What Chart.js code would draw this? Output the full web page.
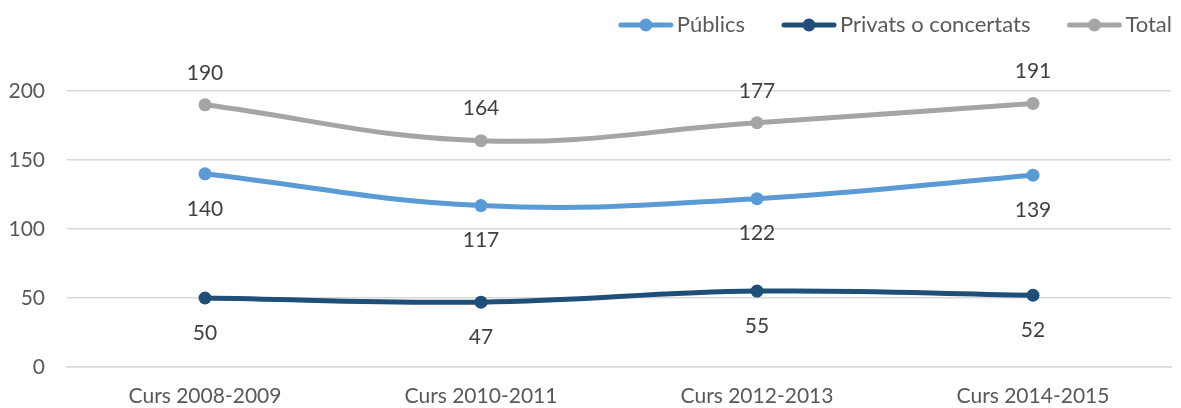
<!DOCTYPE html>
<html>
<head>
<meta charset="utf-8">
<script src="https://cdn.jsdelivr.net/npm/chart.js@4"></script>
<style>
  html, body { margin: 0; padding: 0; background: #fff; }
  #wrap { width: 1181px; height: 408px; }
</style>
</head>
<body>
<div id="wrap"><canvas id="grafic"></canvas></div>
<script>
const cursos = ['Curs 2008-2009', 'Curs 2010-2011', 'Curs 2012-2013', 'Curs 2014-2015'];
const publics = [140, 117, 122, 139];
const privats = [50, 47, 55, 52];
const total = [190, 164, 177, 191];
const ticksY = [0, 50, 100, 150, 200];

const FONT = "Lato, 'Open Sans', sans-serif";
const AMPLE_CAIXA = 70;

// marcador de la llegenda: línia amb punt, enganxat a la dreta de la caixa
function marcador(color) {
   const c = document.createElement('canvas');
   c.width = AMPLE_CAIXA + 16;
   c.height = 14;
   const g = c.getContext('2d');
   const x0 = c.width - 56;
   g.strokeStyle = color;
   g.lineWidth = 5;
   g.lineCap = 'round';
   g.beginPath();
   g.moveTo(x0 + 3, 7);
   g.lineTo(x0 + 53, 7);
   g.stroke();
   g.fillStyle = color;
   g.beginPath();
   g.arc(x0 + 28, 7, 6.5, 0, Math.PI * 2);
   g.fill();
   return c;
}

// etiquetes de dades (dalt o baix del punt)
const etiquetes = {
   id: 'etiquetes',
   afterDatasetsDraw(chart) {
      const ctx = chart.ctx;
      ctx.save();
      ctx.font = "21px " + FONT;
      ctx.fillStyle = '#404040';
      ctx.textAlign = 'center';
      ctx.textBaseline = 'middle';
      chart.data.datasets.forEach((ds, i) => {
         const meta = chart.getDatasetMeta(i);
         meta.data.forEach((pt, j) => {
            const dy = ds.posEtiqueta == 'dalt' ? -32 : 35;
            ctx.fillText(ds.data[j], pt.x, pt.y + dy);
         });
      });
      ctx.restore();
   }
};

// alçada fixa per a la llegenda i una mica més a la dreta
const espaiLlegenda = {
   id: 'espaiLlegenda',
   beforeInit(chart) {
      const fit = chart.legend.fit;
      chart.legend.fit = function () {
         fit.bind(chart.legend)();
         this.height = 91;
      };
   },
   afterLayout(chart) {
      chart.legend.left += 15;
      chart.legend.right += 15;
   }
};

function serie(label, data, color, pos) {
   return {
      label: label,
      data: data,
      borderColor: color,
      backgroundColor: color,
      borderWidth: 5,
      pointRadius: 6.5,
      pointHoverRadius: 6.5,
      pointBackgroundColor: color,
      pointBorderWidth: 0,
      pointStyle: 'circle',
      tension: 0.4,
      posEtiqueta: pos
   };
}

const ctx = document.getElementById('grafic');
new Chart(ctx, {
   type: 'line',
   data: {
      labels: cursos,
      datasets: [
         serie('Públics', publics, '#5B9BD5', 'baix'),
         serie('Privats o concertats', privats, '#1F4E79', 'baix'),
         serie('Total', total, '#A5A5A5', 'dalt')
      ]
   },
   options: {
      responsive: true,
      maintainAspectRatio: false,
      animation: false,
      layout: {
         padding: { top: 0, right: 10, left: 0, bottom: 0 }
      },
      plugins: {
         legend: {
            position: 'top',
            align: 'end',
            labels: {
               usePointStyle: true,
               pointStyleWidth: AMPLE_CAIXA,
               boxHeight: 14,
               padding: 14,
               color: '#595959',
               font: { family: FONT, size: 22 },
               generateLabels(chart) {
                  return chart.data.datasets.map((ds, i) => ({
                     text: ds.label,
                     pointStyle: marcador(ds.borderColor),
                     fillStyle: ds.borderColor,
                     strokeStyle: ds.borderColor,
                     lineWidth: 0,
                     fontColor: '#595959',
                     hidden: false,
                     datasetIndex: i
                  }));
               }
            }
         },
         tooltip: { enabled: false }
      },
      scales: {
         x: {
            offset: true,
            grid: { display: false, drawTicks: false },
            border: { display: true, color: '#D9D9D9', width: 1.5 },
            ticks: {
               color: '#595959',
               font: { family: FONT, size: 21 },
               padding: 17,
               maxRotation: 0
            },
            afterFit(scale) { scale.height = 41; }
         },
         y: {
            min: 0,
            max: 200,
            afterBuildTicks(scale) { scale.ticks = ticksY.map(v => ({ value: v })); },
            grid: { color: '#D9D9D9', lineWidth: 1.5, drawTicks: false },
            border: { display: false },
            ticks: {
               color: '#595959',
               font: { family: FONT, size: 21 },
               padding: 22
            },
            afterFit(scale) { scale.width = 67; }
         }
      }
   },
   plugins: [etiquetes, espaiLlegenda]
});
</script>
</body>
</html>
